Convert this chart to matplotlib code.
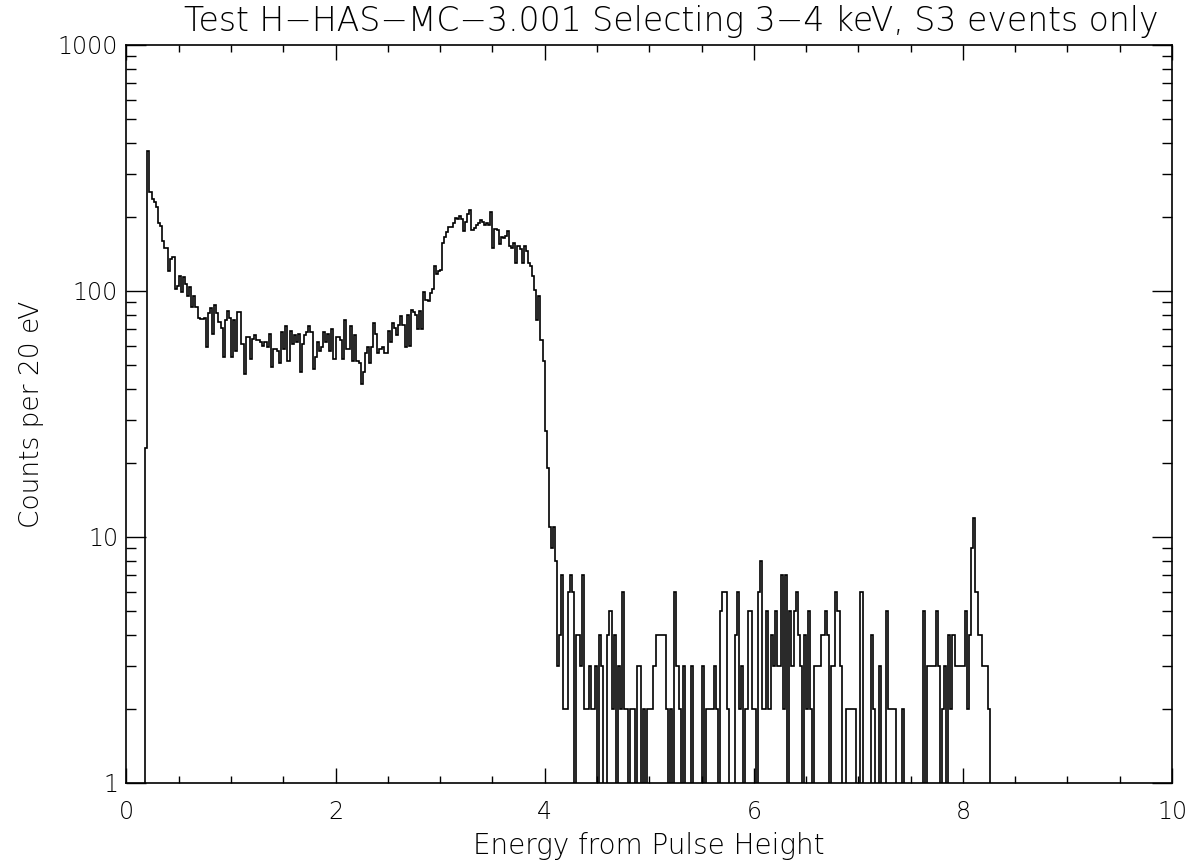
import numpy as np
import matplotlib
matplotlib.use("Agg")
import matplotlib.pyplot as plt
from matplotlib.ticker import LogLocator, FixedLocator, MultipleLocator, NullFormatter

# histogram: 20 eV bins starting at 0.18 keV
bin_start = 0.18
bin_width = 0.02
counts = [
    23, 370, 252, 236, 231, 220, 189, 183, 159, 150, 150, 120, 135, 137, 102, 105,
    115, 99, 114, 107, 95, 104, 86, 95, 86, 78, 77, 77, 78, 59, 81, 85,
    67, 88, 81, 75, 71, 54, 76, 83, 78, 54, 76, 57, 82, 82, 61, 46,
    65, 65, 53, 64, 66, 63, 63, 62, 60, 62, 59, 67, 49, 58, 58, 57,
    51, 68, 58, 72, 52, 69, 61, 66, 62, 67, 47, 61, 66, 68, 72, 68,
    48, 54, 62, 57, 59, 68, 62, 67, 57, 70, 53, 65, 65, 63, 53, 76,
    58, 58, 72, 52, 66, 52, 51, 42, 47, 56, 59, 51, 59, 74, 67, 56,
    58, 59, 56, 56, 69, 62, 74, 71, 66, 73, 79, 73, 59, 80, 60, 84,
    82, 80, 70, 83, 70, 99, 92, 91, 98, 102, 126, 117, 121, 122, 156, 165,
    174, 182, 182, 189, 198, 196, 201, 196, 175, 190, 205, 214, 177, 180, 185, 189,
    195, 190, 185, 189, 186, 209, 149, 178, 177, 155, 165, 164, 168, 175, 152, 150,
    156, 130, 152, 148, 130, 152, 146, 130, 126, 115, 101, 76, 95, 63, 52, 27,
    19, 11, 9, 11, 8, 3, 4, 7, 2, 2, 6, 7, 6, 0, 4, 4,
    3, 7, 2, 2, 3, 2, 2, 3, 0, 4, 3, 0, 0, 4, 5, 2,
    4, 0, 3, 2, 6, 2, 2, 0, 2, 2, 0, 3, 3, 0, 2, 0,
    2, 2, 2, 3, 4, 4, 4, 4, 4, 2, 0, 2, 0, 6, 3, 2,
    0, 3, 0, 0, 0, 3, 0, 0, 0, 0, 3, 0, 2, 2, 2, 2,
    3, 2, 0, 5, 6, 6, 2, 0, 0, 0, 4, 6, 2, 3, 0, 2,
    5, 5, 2, 2, 0, 6, 8, 2, 2, 5, 2, 4, 3, 5, 3, 3,
    7, 2, 7, 0, 5, 3, 5, 6, 4, 3, 0, 4, 2, 5, 2, 0,
    3, 3, 3, 4, 4, 5, 4, 0, 3, 3, 6, 5, 3, 0, 0, 2,
    2, 2, 2, 2, 0, 0, 6, 0, 0, 0, 0, 4, 2, 0, 0, 3,
    0, 0, 5, 2, 2, 2, 2, 0, 0, 0, 2, 0, 0, 0, 0, 0,
    0, 0, 0, 0, 5, 0, 3, 3, 3, 3, 5, 3, 0, 2, 3, 0,
    4, 2, 4, 3, 3, 3, 3, 3, 5, 2, 4, 9, 12, 6, 4, 4,
    3, 3, 3, 2,
]

title = "Test H-HAS-MC-3.001 Selecting 3-4 keV, S3 events only".replace("-", "\u2212")
xlabel = "Energy from Pulse Height"
ylabel = "Counts per 20 eV"
ytick_vals = [1, 10, 100, 1000]
ytick_labels = ["1", "10", "100", "1000"]
xtick_vals = [0, 2, 4, 6, 8, 10]

plt.rcParams['font.family'] = ['DejaVu Sans']
plt.rcParams['font.weight'] = 200
plt.rcParams['axes.titleweight'] = 200
plt.rcParams['axes.labelweight'] = 200

counts = np.array(counts, dtype=float)
edges = bin_start + bin_width * np.arange(len(counts) + 1)
shown = np.where(counts > 0, counts, 0.3)  # empty bins fall below the axis

fig = plt.figure(figsize=(11.93, 8.63), dpi=100)
ax = fig.add_axes([0.106, 0.0927, 0.8764, 0.8552])
ax.stairs(shown, edges, baseline=0.3, color='black', lw=1.2)

ax.set_yscale('log')
ax.set_xlim(0, 10)
ax.set_ylim(1, 1000)

ax.xaxis.set_major_locator(FixedLocator(xtick_vals))
ax.xaxis.set_minor_locator(MultipleLocator(0.5))
ax.set_xticklabels([str(v) for v in xtick_vals])
ax.yaxis.set_major_locator(FixedLocator(ytick_vals))
ax.set_yticklabels(ytick_labels)
ax.yaxis.set_minor_locator(LogLocator(base=10, subs=np.arange(2, 10)))
ax.yaxis.set_minor_formatter(NullFormatter())

ax.tick_params(axis='both', which='both', direction='in', top=True, right=True,
               color='black', width=1.0, labelsize=17)
ax.tick_params(axis='x', which='major', length=10.8, pad=12)
ax.tick_params(axis='x', which='minor', length=5)
ax.tick_params(axis='y', which='major', length=14.4, pad=6)
ax.tick_params(axis='y', which='minor', length=7.2)
for s in ax.spines.values():
    s.set_linewidth(1.2)

ax.set_title(title, fontsize=23.8, pad=10, x=0.521)
ax.set_xlabel(xlabel, fontsize=20, labelpad=6)
ax.set_ylabel(ylabel, fontsize=19, labelpad=10)

fig.savefig("out.png", dpi=100)
